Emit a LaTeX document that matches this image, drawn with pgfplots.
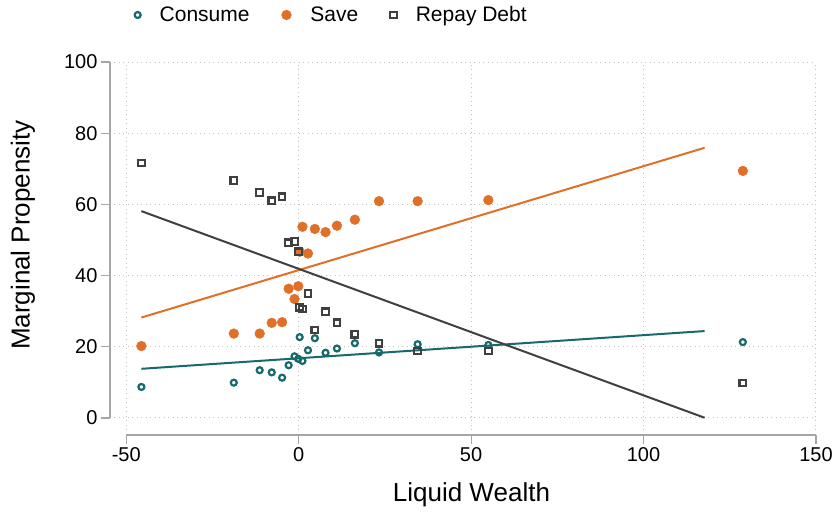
\documentclass[border=0pt]{standalone}
\usepackage{fontspec}
\setmainfont{Liberation Sans}
\usepackage{pgfplots}
\pgfplotsset{compat=1.18}

\definecolor{cteal}{HTML}{176A6C}
\definecolor{corange}{HTML}{E07028}
\definecolor{cgray}{HTML}{404040}
\definecolor{axgray}{HTML}{A6A6A6}
\definecolor{gridgray}{HTML}{C4C4C4}

\begin{document}
\begin{tikzpicture}
\begin{axis}[
    scale only axis,
    width=706pt, height=373pt,
    xmin=-54.7, xmax=150,
    ymin=-4.8, ymax=100,
    xtick={-50,0,50,100,150},
    ytick={0,20,40,60,80,100},
    clip=false,
    axis line style={draw=none},
    xtick pos=bottom, ytick pos=left,
    tick align=outside,
    major tick length=9pt,
    tick style={axgray, line width=1.2pt},
    grid=major,
    grid style={gridgray, line width=1pt, dash pattern=on 1pt off 3.5pt},
    /pgf/number format/assume math mode=true,
    ticklabel style={font=\fontsize{20}{24}\selectfont},
    xlabel={Liquid Wealth},
    ylabel={Marginal Propensity},
    label style={font=\fontsize{26}{30}\selectfont},
    xlabel style={at={(axis description cs:0.512,0)}, anchor=base, yshift=-66.7pt},
    ylabel style={at={(axis description cs:-0.1232,0.536)}, anchor=center},
    legend columns=3,
    legend style={draw=none, fill=none, inner sep=0pt,
        at={(axis description cs:0,1)}, anchor=west,
        xshift=24.5pt, yshift=47pt,
        font=\fontsize{21}{25}\selectfont,
        /tikz/every odd column/.append style={column sep=17pt},
        /tikz/every even column/.append style={column sep=30pt}},
]

% Consume
\addplot[only marks, mark=o, cteal,
    mark options={mark size=3pt, line width=2.2pt}]
    coordinates {
    (-45.6,8.7)(-18.8,9.9)(-11.3,13.4)(-7.8,12.8)(-4.8,11.3)(-2.9,14.8)
    (-1.2,17.3)(-0.1,16.6)(0.3,22.7)(1.1,16.0)(2.7,19.0)(4.7,22.4)
    (7.8,18.3)(11.1,19.5)(16.3,21.0)(23.3,18.4)(34.5,20.7)(55,20.5)(128.8,21.3)
    };
\addlegendentry{Consume}

% Save
\addplot[only marks, mark=*, corange, mark options={mark size=4.9pt}]
    coordinates {
    (-45.6,20.2)(-18.8,23.7)(-11.3,23.7)(-7.8,26.7)(-4.8,26.9)(-2.9,36.3)
    (-1.2,33.4)(-0.1,37.0)(0.3,46.7)(1.1,53.7)(2.7,46.2)(4.7,53.1)
    (7.8,52.2)(11.1,54.0)(16.3,55.7)(23.3,60.9)(34.5,60.9)(55,61.2)(128.8,69.4)
    };
\addlegendentry{Save}

% Repay debt
\addplot[only marks, mark=square, cgray,
    mark options={mark size=3.3pt, line width=2.2pt}]
    coordinates {
    (-45.6,71.6)(-18.8,66.7)(-11.3,63.3)(-7.8,61.0)(-4.8,62.1)(-2.9,49.2)
    (-1.2,49.6)(-0.1,46.7)(0.3,31.1)(1.1,30.6)(2.7,35.0)(4.7,24.7)
    (7.8,29.8)(11.1,26.7)(16.3,23.5)(23.3,21.0)(34.5,18.8)(55,18.8)(128.8,9.8)
    };
\addlegendentry{Repay Debt}

% fitted lines
\addplot[cteal, line width=2pt, forget plot] coordinates {(-45.6,13.8)(117.7,24.4)};
\addplot[corange, line width=2pt, forget plot] coordinates {(-45.6,28.2)(117.7,75.9)};
\addplot[cgray, line width=2pt, forget plot] coordinates {(-45.6,58.1)(117.7,0.05)};

% axis lines
\draw[axgray, line width=2pt] (axis cs:-54.7,0) -- (axis cs:-54.7,100);
\draw[axgray, line width=2pt] (axis cs:-50,-4.8) -- (axis cs:150,-4.8);
\end{axis}
\useasboundingbox ([xshift=-110pt,yshift=-77pt]current axis.south west) rectangle ([xshift=20pt,yshift=62pt]current axis.north east);
\end{tikzpicture}
\end{document}
